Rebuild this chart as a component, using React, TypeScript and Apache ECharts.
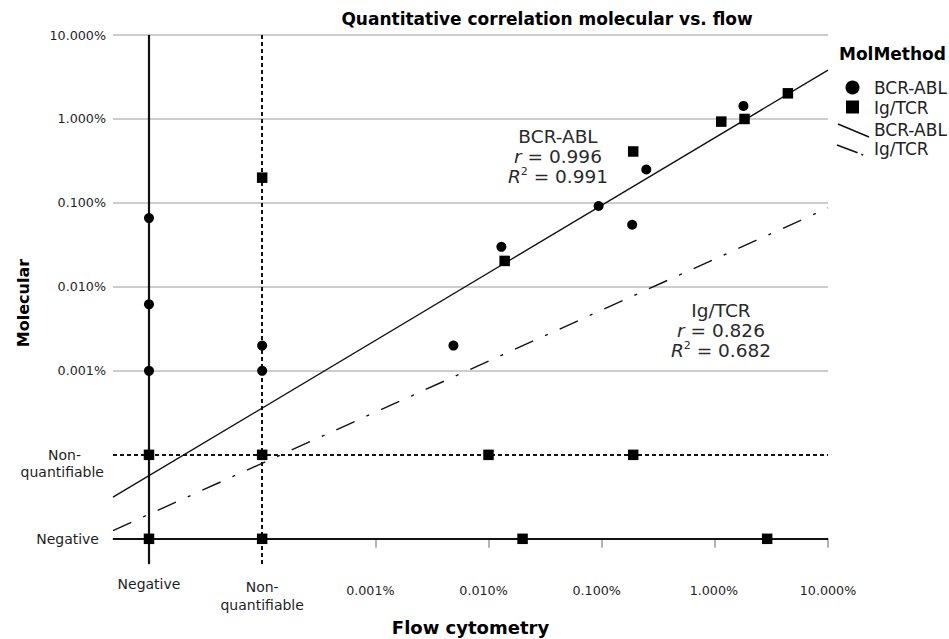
import React, { useEffect, useRef } from 'react';
import * as echarts from 'echarts';

const FONT = "'DejaVu Sans', 'Liberation Sans', Arial, sans-serif";

// axis categories (positions 0..6 on both axes)
const tickLabels = ['Negative', 'Non-\nquantifiable', '0.001%', '0.010%', '0.100%', '1.000%', '10.000%'];
const tickPositions = [0, 1, 2, 3, 4, 5, 6];
const decadePositions = [2, 3, 4, 5, 6];
const seriesNames = ['BCR-ABL', 'Ig/TCR'];

type V = number | 'Negative' | 'NQ';

// BCR-ABL: flow cytometry (%) vs molecular (%)
const bcrFlow: V[] = ['Negative', 'Negative', 'Negative', 'NQ', 'NQ', 0.0049, 0.013, 0.094, 0.186, 0.248, 1.79];
const bcrMol: V[] = [0.066, 0.0062, 0.001, 0.002, 0.001, 0.002, 0.03, 0.092, 0.055, 0.25, 1.43];

// Ig/TCR: flow cytometry (%) vs molecular (%)
const igFlow: V[] = ['Negative', 'Negative', 'NQ', 'NQ', 'NQ', 0.01, 0.19, 0.02, 2.9, 0.0139, 0.19, 1.14, 1.83, 4.42];
const igMol: V[] = ['NQ', 'Negative', 'NQ', 'Negative', 0.2, 'NQ', 'NQ', 'Negative', 'Negative', 0.0204, 0.41, 0.93, 1.0, 2.02];

// fits: log10(molecular %) = intercept + slope * log10(flow %)
const bcrFit = { intercept: -0.223, slope: 0.805, r: '0.996', r2: '0.991' };
const igFit = { intercept: -1.668, slope: 0.608, r: '0.826', r2: '0.682' };

const X_MIN = -0.318;
const X_MAX = 6;
const Y_MIN = -0.3;
const Y_MAX = 6;

const pos = (v: V): number => (v === 'Negative' ? 0 : v === 'NQ' ? 1 : 5 + Math.log10(v));
const pairs = (xs: V[], ys: V[]) => xs.map((x, i) => [pos(x), pos(ys[i])]);
const fitLine = (f: { intercept: number; slope: number }) =>
  [X_MIN, X_MAX].map((x) => [x, 5 + f.intercept + f.slope * (x - 5)]);

const DARK = '#111111';
const GRAY = '#9a9a9a';

export default function App() {
  const ref = useRef<HTMLDivElement>(null);
  useEffect(() => {
    if (!ref.current) return;
    const chart = echarts.init(ref.current, undefined, { renderer: 'svg' });

    const xFormatter = (v: number) => {
      const i = Math.round(v);
      const t = tickLabels[i];
      if (i === 0) return `{neg|${t}}`;
      if (i === 1) {
        const [a, b] = t.split('\n');
        return `{nqA|${a}}\n{nqB|${b}}`;
      }
      if (i <= 4) return `{numA|${t}}`;
      if (i === 5) return `{numB|${t}}`;
      return `{num|${t}}`;
    };
    const yFormatter = (v: number) => {
      const i = Math.round(v);
      const t = tickLabels[i];
      if (i === 0) return `{neg|${t}}`;
      if (i === 1) {
        const [a, b] = t.split('\n');
        return `{sp| }\n{nqA|${a}}\n{nqB|${b}}`;
      }
      return `{num|${t}}`;
    };

    const word = { fontFamily: FONT, fontSize: 14, lineHeight: 17, color: '#1e1e1e' };
    const num = { fontFamily: FONT, fontSize: 12.7, lineHeight: 15, color: '#1e1e1e' };

    const annText = (label: string, f: { r: string; r2: string }) =>
      `${label}\n{i|r} = ${f.r}\n{i|R}{sup|2} = ${f.r2}`;
    const annStyle = {
      fill: '#2a2a2a',
      fontFamily: FONT,
      fontSize: 18.5,
      lineHeight: 20,
      align: 'center',
      verticalAlign: 'middle',
      rich: {
        i: { fontFamily: FONT, fontSize: 18.5, lineHeight: 20, fontStyle: 'italic', fill: '#2a2a2a' },
        sup: { fontFamily: FONT, fontSize: 11, lineHeight: 12, verticalAlign: 'top', fill: '#2a2a2a' },
      },
    };

    const gridMarks = decadePositions.map((y) => ({
      yAxis: y,
      lineStyle: { color: '#bdbdbd', width: 1.5, type: 'solid' },
    }));
    const specialMarks = [
      { xAxis: 0, lineStyle: { color: '#111', width: 2.2, type: 'solid' } },
      { xAxis: 1, lineStyle: { color: '#111', width: 2, type: [4, 3] } },
      { yAxis: 0, lineStyle: { color: '#111', width: 2.2, type: 'solid' } },
      { yAxis: 1, lineStyle: { color: '#111', width: 2, type: [4, 3] } },
    ];

    chart.setOption({
      animation: false,
      backgroundColor: '#ffffff',
      title: {
        text: 'Quantitative correlation molecular vs. flow',
        left: 547,
        top: 9,
        textAlign: 'center',
        padding: 0,
        textStyle: { fontFamily: FONT, fontSize: 17, fontWeight: 'bold', color: '#000', lineHeight: 20 },
      },
      grid: { left: 113, top: 35, right: 121, bottom: 75, containLabel: false, outerBoundsMode: 'none' },
      xAxis: {
        type: 'value',
        min: X_MIN,
        max: X_MAX,
        name: 'Flow cytometry',
        nameLocation: 'middle',
        nameGap: 54,
        nameMoveOverlap: false,
        nameTextStyle: { fontFamily: FONT, fontSize: 18, fontWeight: 'bold', color: '#000' },
        splitLine: { show: false },
        axisLine: { show: true, lineStyle: { color: GRAY, width: 1.5 } },
        axisTick: { show: true, customValues: decadePositions, length: 9, lineStyle: { color: GRAY, width: 1.5 } },
        axisLabel: {
          customValues: tickPositions,
          margin: 11.5,
          formatter: xFormatter,
          rich: {
            neg: { ...word },
            nqA: { ...word, lineHeight: 22 },
            nqB: { ...word, lineHeight: 15 },
            numA: { ...num, lineHeight: 30, padding: [0, 10, 0, 0] },
            numB: { ...num, lineHeight: 30, padding: [0, 2, 0, 0] },
            num: { ...num, lineHeight: 30 },
          },
        },
      },
      yAxis: {
        type: 'value',
        min: Y_MIN,
        max: Y_MAX,
        name: 'Molecular',
        nameLocation: 'middle',
        nameGap: 82,
        nameMoveOverlap: false,
        nameTextStyle: { fontFamily: FONT, fontSize: 16, fontWeight: 'bold', color: '#000', padding: [0, 7, 0, 0] },
        splitLine: { show: false },
        axisLine: { show: true, lineStyle: { color: GRAY, width: 1.5 } },
        axisTick: { show: false },
        axisLabel: {
          customValues: tickPositions,
          margin: 7,
          formatter: yFormatter,
          rich: {
            neg: { ...word, padding: [0, 7, 0, 0] },
            sp: { ...word },
            nqA: { ...word, padding: [0, 25, 0, 0] },
            nqB: { ...word, padding: [0, 2, 0, 0] },
            num: { ...num },
          },
        },
      },
      series: [
        {
          name: 'reference lines',
          type: 'line',
          data: [],
          z: 1,
          silent: true,
          markLine: {
            silent: true,
            symbol: ['none', 'none'],
            label: { show: false },
            animation: false,
            data: [...gridMarks, ...specialMarks],
          },
        },
        {
          name: seriesNames[0] + ' fit',
          type: 'line',
          data: fitLine(bcrFit),
          symbol: 'none',
          z: 8,
          silent: true,
          lineStyle: { color: DARK, width: 1.4 },
        },
        {
          name: seriesNames[1] + ' fit',
          type: 'line',
          data: fitLine(igFit),
          symbol: 'none',
          z: 8,
          silent: true,
          lineStyle: { color: DARK, width: 1.4, type: [20, 13, 3, 13] },
        },
        {
          name: seriesNames[0],
          type: 'scatter',
          data: pairs(bcrFlow, bcrMol),
          symbol: 'circle',
          symbolSize: 10,
          z: 10,
          itemStyle: { color: '#000', opacity: 1 },
        },
        {
          name: seriesNames[1],
          type: 'scatter',
          data: pairs(igFlow, igMol),
          symbol: 'rect',
          symbolSize: 10.5,
          z: 10,
          itemStyle: { color: '#000', opacity: 1 },
        },
      ],
      graphic: [
        { type: 'text', x: 558, y: 156, style: { text: annText(seriesNames[0], bcrFit), ...annStyle } },
        { type: 'text', x: 721, y: 330, style: { text: annText(seriesNames[1], igFit), ...annStyle } },
        {
          type: 'text',
          x: 839,
          y: 54,
          style: { text: 'MolMethod', fontFamily: FONT, fontSize: 17, fontWeight: 'bold', fill: '#000', verticalAlign: 'middle' },
        },
        { type: 'circle', shape: { cx: 852.5, cy: 87.5, r: 7 }, style: { fill: '#000' } },
        { type: 'rect', shape: { x: 846, y: 100.5, width: 13, height: 13 }, style: { fill: '#000' } },
        { type: 'line', shape: { x1: 838, y1: 124, x2: 869, y2: 137 }, style: { stroke: DARK, lineWidth: 1.5 } },
        {
          type: 'line',
          shape: { x1: 837, y1: 145, x2: 866, y2: 156 },
          style: { stroke: DARK, lineWidth: 1.5, lineDash: [22, 4, 2, 4] },
        },
        ...[88, 108, 130, 149].map((y, k) => ({
          type: 'text',
          x: 874,
          y,
          style: { text: seriesNames[k % 2], fontFamily: FONT, fontSize: 17, fill: '#222', verticalAlign: 'middle' },
        })),
      ],
    });
    return () => chart.dispose();
  }, []);
  return <div ref={ref} style={{ position: 'fixed', left: 0, top: 0, width: 949, height: 639 }} />;
}
